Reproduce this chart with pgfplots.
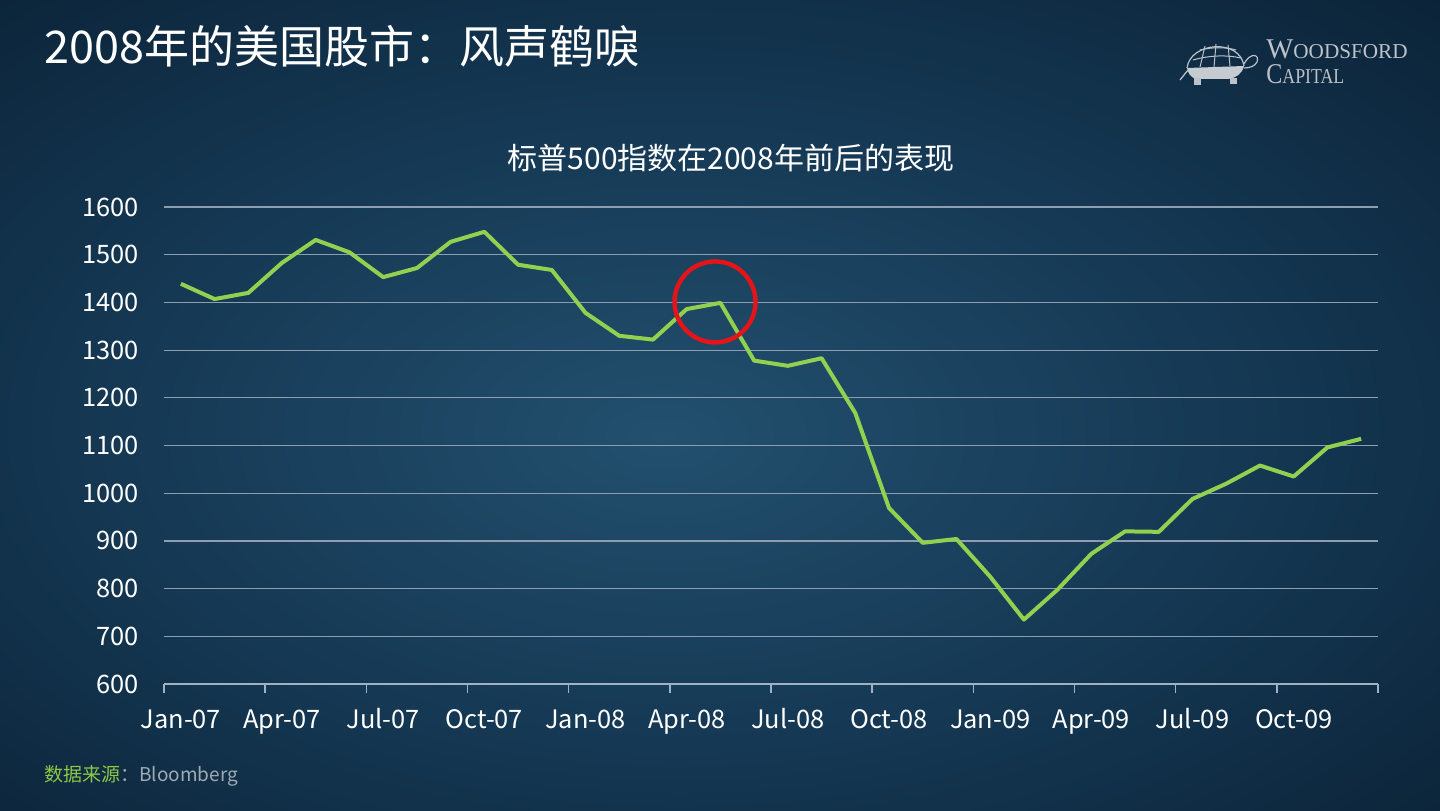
\documentclass[border=0pt]{standalone}
\usepackage{fontspec}
\setmainfont{Noto Sans CJK SC}
\newfontfamily\logofont{Liberation Serif}
\usepackage{pgfplots}
\pgfplotsset{compat=1.18}

\definecolor{bgin}{RGB}{34,80,110}
\definecolor{bgmid}{RGB}{22,58,86}
\definecolor{bgout}{RGB}{8,29,48}
\definecolor{linec}{RGB}{146,208,80}
\definecolor{redc}{RGB}{228,20,24}
\definecolor{gridc}{RGB}{140,158,175}
\definecolor{axisc}{RGB}{160,178,194}
\definecolor{logoc}{RGB}{188,194,202}
\definecolor{footgreen}{RGB}{140,200,70}
\definecolor{footgray}{RGB}{160,170,180}

\pgfdeclareradialshading{bgshade}{\pgfpoint{-2bp}{-2bp}}{%
  color(0bp)=(bgin); color(18bp)=(bgmid); color(42bp)=(bgout); color(75bp)=(bgout)}

\begin{document}
\begin{tikzpicture}[x=0.5pt,y=0.5pt]
\path[use as bounding box] (0,0) rectangle (1440,810);
\shade[shading=bgshade] (0,0) rectangle (1440,810);

\begin{scope}[shift={(0,810)}, y=-0.5pt]
  % titles
  \node[anchor=west, text=white, inner sep=0, font=\fontsize{22.5}{27}\selectfont]
    at (44,46) {2008年的美国股市：风声鹤唳};
  \node[text=white, inner sep=0, font=\fontsize{15}{18}\selectfont]
    at (731,158) {标普500指数在2008年前后的表现};
  \node[anchor=west, inner sep=0, font=\fontsize{9.5}{11}\selectfont]
    at (44,776) {\textcolor{footgreen}{数据来源}\textcolor{footgray}{：Bloomberg}};
  % logo
  \node[anchor=base west, inner sep=0, text depth=0pt, text=logoc] at (1266,59)
    {\logofont\fontsize{14.3}{15}\selectfont W\fontsize{10.6}{11}\selectfont OODSFORD};
  \node[anchor=base west, inner sep=0, text depth=0pt, text=logoc] at (1266,84)
    {\logofont\scalebox{0.84}[1]{\fontsize{14.3}{15}\selectfont C\fontsize{10.6}{11}\selectfont APITAL}};
  % turtle
  \fill[logoc!85] (1187,68) -- (1244,66) .. controls (1242,74) and (1236,78) .. (1228,79)
    -- (1196,79) .. controls (1190,77) and (1188,73) .. cycle;
  \draw[logoc, line width=0.6pt] (1187,68) .. controls (1190,42) and (1240,38) .. (1244,66);
  \draw[logoc, line width=0.5pt] (1193,60) .. controls (1210,55) and (1228,55) .. (1241,58);
  \draw[logoc, line width=0.5pt] (1200,50) .. controls (1212,47) and (1226,47) .. (1236,50);
  \draw[logoc, line width=0.5pt] (1205,46) -- (1200,67) (1216,44) -- (1214,67) (1228,45) -- (1230,66);
  \draw[logoc, line width=0.6pt] (1244,64) .. controls (1250,52) and (1260,54) .. (1257,62)
    .. controls (1255,66) and (1250,68) .. (1244,68);
  \fill[logoc] (1194,78) rectangle (1201,85);
  \fill[logoc] (1230,78) rectangle (1237,84);
  \draw[logoc, line width=0.6pt] (1188,70) -- (1180,80);
\end{scope}

\begin{axis}[
  at={(82pt,63pt)}, anchor=south west,
  width=607pt, height=238.5pt, scale only axis,
  xmin=-0.5, xmax=35.5, ymin=600, ymax=1600,
  axis x line=bottom, axis y line=left,
  x axis line style={-, draw=axisc, line width=0.75pt},
  y axis line style={draw=none},
  xtick={0,3,...,33},
  xticklabels={Jan-07,Apr-07,Jul-07,Oct-07,Jan-08,Apr-08,Jul-08,Oct-08,Jan-09,Apr-09,Jul-09,Oct-09},
  minor xtick={-0.5,2.5,...,35.5},
  major tick length=0pt,
  minor tick length=4.5pt,
  tick align=outside,
  minor tick style={draw=axisc, line width=0.75pt},
  ytick={600,700,...,1600},
  ymajorgrids=true,
  major grid style={draw=gridc, line width=0.6pt},
  /pgf/number format/1000 sep={},
  /pgf/number format/assume math mode=true,
  tick label style={text=white, font=\fontsize{12.7}{14}\selectfont},
  yticklabel style={xshift=-9pt},
  xticklabel style={anchor=base, yshift=-22pt},
  clip=false,
]
\addplot[linec, line width=2pt, line join=round, no markers] coordinates {
  (0,1439) (1,1407) (2,1420) (3,1483) (4,1531) (5,1505) (6,1453) (7,1472)
  (8,1527) (9,1548) (10,1479) (11,1468) (12,1378) (13,1330) (14,1322) (15,1386)
  (16,1399) (17,1278) (18,1267) (19,1283) (20,1168) (21,969) (22,896) (23,904)
  (24,825) (25,735) (26,798) (27,873) (28,920) (29,919) (30,988) (31,1020)
  (32,1058) (33,1035) (34,1096) (35,1114)
};
\draw[redc, line width=2.2pt] (axis cs:15.84,1401) circle[radius=20.25pt];
\end{axis}
\end{tikzpicture}
\end{document}
